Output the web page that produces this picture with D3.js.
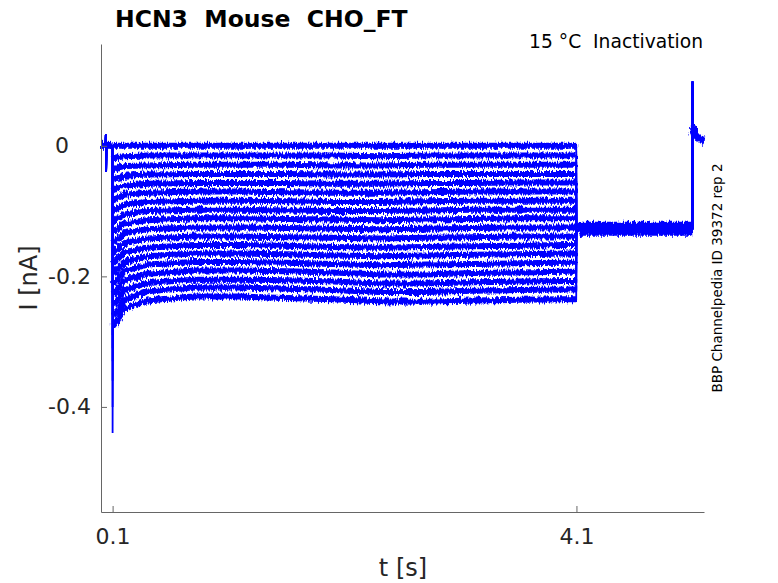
<!DOCTYPE html>
<html>
<head>
<meta charset="utf-8">
<style>
  body { margin: 0; background: #fff; }
  text { font-family: "DejaVu Sans", sans-serif; fill: #262626; white-space: pre; }
</style>
</head>
<body>
<div id="container"></div>
<script src="https://d3js.org/d3.v7.min.js"></script>
<script>
// holding segment before the step (t in s, I in nA)
var preT = [0, 0.040, 0.042, 0.044, 0.046, 0.1];
var preV = [0, 0, 0.017, -0.040, 0, 0];

// capacitive peak of each sweep right at the step onset
var capPeak = [0, -0.03, -0.05, -0.08, -0.10, -0.12, -0.15, -0.17, -0.19,
               -0.22, -0.24, -0.26, -0.29, -0.31, -0.33, -0.36, -0.40, -0.44];

// step segment, 0.1 s -> 4.1 s, one row per sweep
var stepT = [0.102, 0.13, 0.2, 0.4, 0.8, 1.2, 1.6, 2.0, 2.4, 2.8, 3.2, 3.6, 4.0, 4.098];
var sweeps = [
  [ 0.000, 0.000, 0.000, 0.000, 0.000, 0.000, 0.000, 0.000, 0.000, 0.000, 0.000, 0.000, 0.000, 0.000],
  [-0.020,-0.018,-0.016,-0.015,-0.015,-0.015,-0.015,-0.015,-0.016,-0.015,-0.015,-0.015,-0.015,-0.015],
  [-0.036,-0.034,-0.031,-0.030,-0.029,-0.029,-0.029,-0.030,-0.030,-0.029,-0.029,-0.029,-0.029,-0.029],
  [-0.052,-0.050,-0.046,-0.044,-0.043,-0.043,-0.043,-0.044,-0.044,-0.043,-0.043,-0.043,-0.043,-0.043],
  [-0.068,-0.066,-0.061,-0.058,-0.057,-0.057,-0.057,-0.058,-0.058,-0.057,-0.057,-0.056,-0.056,-0.056],
  [-0.084,-0.081,-0.075,-0.072,-0.070,-0.070,-0.071,-0.072,-0.072,-0.071,-0.070,-0.070,-0.070,-0.070],
  [-0.100,-0.097,-0.090,-0.086,-0.084,-0.084,-0.085,-0.086,-0.086,-0.085,-0.084,-0.084,-0.084,-0.084],
  [-0.116,-0.113,-0.105,-0.100,-0.098,-0.098,-0.099,-0.100,-0.100,-0.099,-0.098,-0.098,-0.098,-0.098],
  [-0.132,-0.129,-0.119,-0.114,-0.111,-0.111,-0.112,-0.113,-0.114,-0.113,-0.112,-0.111,-0.111,-0.111],
  [-0.148,-0.145,-0.134,-0.128,-0.125,-0.125,-0.126,-0.127,-0.128,-0.127,-0.126,-0.125,-0.125,-0.125],
  [-0.164,-0.160,-0.149,-0.142,-0.139,-0.139,-0.140,-0.141,-0.142,-0.141,-0.140,-0.139,-0.139,-0.139],
  [-0.180,-0.176,-0.163,-0.156,-0.152,-0.152,-0.153,-0.155,-0.156,-0.155,-0.154,-0.153,-0.152,-0.152],
  [-0.196,-0.192,-0.178,-0.169,-0.165,-0.165,-0.166,-0.168,-0.169,-0.168,-0.167,-0.166,-0.165,-0.165],
  [-0.212,-0.207,-0.192,-0.182,-0.178,-0.178,-0.179,-0.181,-0.183,-0.182,-0.181,-0.180,-0.179,-0.179],
  [-0.228,-0.223,-0.206,-0.196,-0.191,-0.191,-0.192,-0.194,-0.197,-0.197,-0.195,-0.194,-0.193,-0.193],
  [-0.244,-0.239,-0.221,-0.210,-0.205,-0.205,-0.206,-0.208,-0.211,-0.211,-0.209,-0.208,-0.207,-0.207],
  [-0.260,-0.255,-0.236,-0.223,-0.217,-0.217,-0.219,-0.221,-0.224,-0.224,-0.222,-0.221,-0.220,-0.220],
  [-0.276,-0.270,-0.250,-0.237,-0.231,-0.231,-0.233,-0.235,-0.238,-0.239,-0.237,-0.236,-0.235,-0.235]
];

// common tail after the step, then the return spike
var tailT = [4.1, 4.11, 4.15, 4.5, 5.0, 5.099];
var tailV = [-0.135, -0.130, -0.127, -0.127, -0.127, -0.127];
var postT = [5.101, 5.104, 5.12, 5.15, 5.2];
var postV = [0.098, 0.030, 0.018, 0.012, 0.008];

var xTicks = [0.1, 4.1];
var xTickLabels = ["0.1", "4.1"];
var yTicks = [-0.4, -0.2, 0];
var yTickLabels = ["-0.4", "-0.2", "0"];

var margin = {top: 44, right: 74, bottom: 71, left: 101},
    width = 778 - margin.left - margin.right,
    height = 583 - margin.top - margin.bottom;

var root = d3.select("#container").append("svg")
    .attr("width", 778)
    .attr("height", 583);

// ragged edges for the recorded noise on the wide bands
var filt = root.append("defs").append("filter")
    .attr("id", "rough")
    .attr("x", "-2%").attr("y", "-10%").attr("width", "104%").attr("height", "120%");
filt.append("feTurbulence")
    .attr("type", "fractalNoise")
    .attr("baseFrequency", "0.8 0.12")
    .attr("numOctaves", 2)
    .attr("seed", 3)
    .attr("result", "n");
filt.append("feDisplacementMap")
    .attr("in", "SourceGraphic")
    .attr("in2", "n")
    .attr("scale", 7)
    .attr("xChannelSelector", "R")
    .attr("yChannelSelector", "G");

var svg = root.append("g")
    .attr("transform", "translate(" + margin.left + "," + margin.top + ")");

var x = d3.scaleLinear().domain([0, 5.2]).range([0, width]);
var y = d3.scaleLinear().domain([-0.561, 0.156]).range([height, 0]);

var line = d3.line()
    .x(function (d) { return x(d[0]); })
    .y(function (d) { return y(d[1]); });

function pts(ts, vs) { return ts.map(function (t, i) { return [t, vs[i]]; }); }

var traces = svg.append("g");
var bands = traces.append("g").attr("filter", "url(#rough)");

// wide bands give the noisy thickness of the recorded sweeps
bands.append("path")
    .attr("d", line(pts(preT.slice(0, 2), preV.slice(0, 2)).concat([[0.1, 0]])))
    .attr("fill", "none").attr("stroke", "#0000ff").attr("stroke-width", 8);
bands.append("path")
    .attr("d", line(pts(tailT.slice(1), tailV.slice(1))))
    .attr("fill", "none").attr("stroke", "#0000ff").attr("stroke-width", 14);
bands.append("path")
    .attr("d", line(pts(postT.slice(1), postV.slice(1))))
    .attr("fill", "none").attr("stroke", "#0000ff").attr("stroke-width", 8);

sweeps.forEach(function (vals) {
  bands.append("path")
    .attr("d", line(pts(stepT, vals)))
    .attr("fill", "none")
    .attr("stroke", "#0000ff")
    .attr("stroke-width", 6)
    .attr("stroke-linejoin", "round");
});

// thin full sweep with transients
sweeps.forEach(function (vals, i) {
  var d = pts(preT, preV)
    .concat([[0.1, capPeak[i]]])
    .concat(pts(stepT, vals))
    .concat(pts(tailT, tailV))
    .concat(pts(postT, postV));
  traces.append("path")
    .attr("d", line(d))
    .attr("fill", "none")
    .attr("stroke", "#0000ff")
    .attr("stroke-width", 1.8);
});

// axes
var xAxis = svg.append("g")
    .attr("transform", "translate(0," + height + ")")
    .call(d3.axisBottom(x).tickValues(xTicks).tickSize(-6).tickSizeOuter(0).tickPadding(16)
      .tickFormat(function (d, i) { return xTickLabels[i]; }));

var yAxis = svg.append("g")
    .call(d3.axisLeft(y).tickValues(yTicks).tickSize(-6).tickSizeOuter(0).tickPadding(10)
      .tickFormat(function (d, i) { return yTickLabels[i]; }));

[xAxis, yAxis].forEach(function (a) {
  a.selectAll("path, line").attr("stroke", "#666");
  a.selectAll("text").style("font-size", "22px").attr("fill", "#262626");
});
yAxis.selectAll("text").filter(function (d) { return d === 0; }).attr("dx", -22);

// labels
svg.append("text")
    .attr("text-anchor", "middle")
    .attr("x", 403 - margin.left)
    .attr("y", 576 - margin.top)
    .style("font-size", "24px")
    .text("t [s]");

svg.append("text")
    .attr("text-anchor", "middle")
    .attr("transform", "translate(" + (37 - margin.left) + "," + (278 - margin.top) + ") rotate(-90)")
    .style("font-size", "24px")
    .text("I [nA]");

svg.append("text")
    .attr("x", 115 - margin.left)
    .attr("y", 27 - margin.top)
    .style("font-size", "23.5px")
    .style("font-weight", "bold")
    .style("fill", "#000")
    .text("HCN3  Mouse  CHO_FT");

svg.append("text")
    .attr("text-anchor", "end")
    .attr("x", 703 - margin.left)
    .attr("y", 48 - margin.top)
    .style("font-size", "18.7px")
    .style("fill", "#000")
    .text("15 °C  Inactivation");

svg.append("text")
    .attr("text-anchor", "middle")
    .attr("transform", "translate(" + (722 - margin.left) + "," + (278 - margin.top) + ") rotate(-90)")
    .style("font-size", "13.5px")
    .style("fill", "#000")
    .text("BBP Channelpedia ID 39372 rep 2");
</script>
</body>
</html>
